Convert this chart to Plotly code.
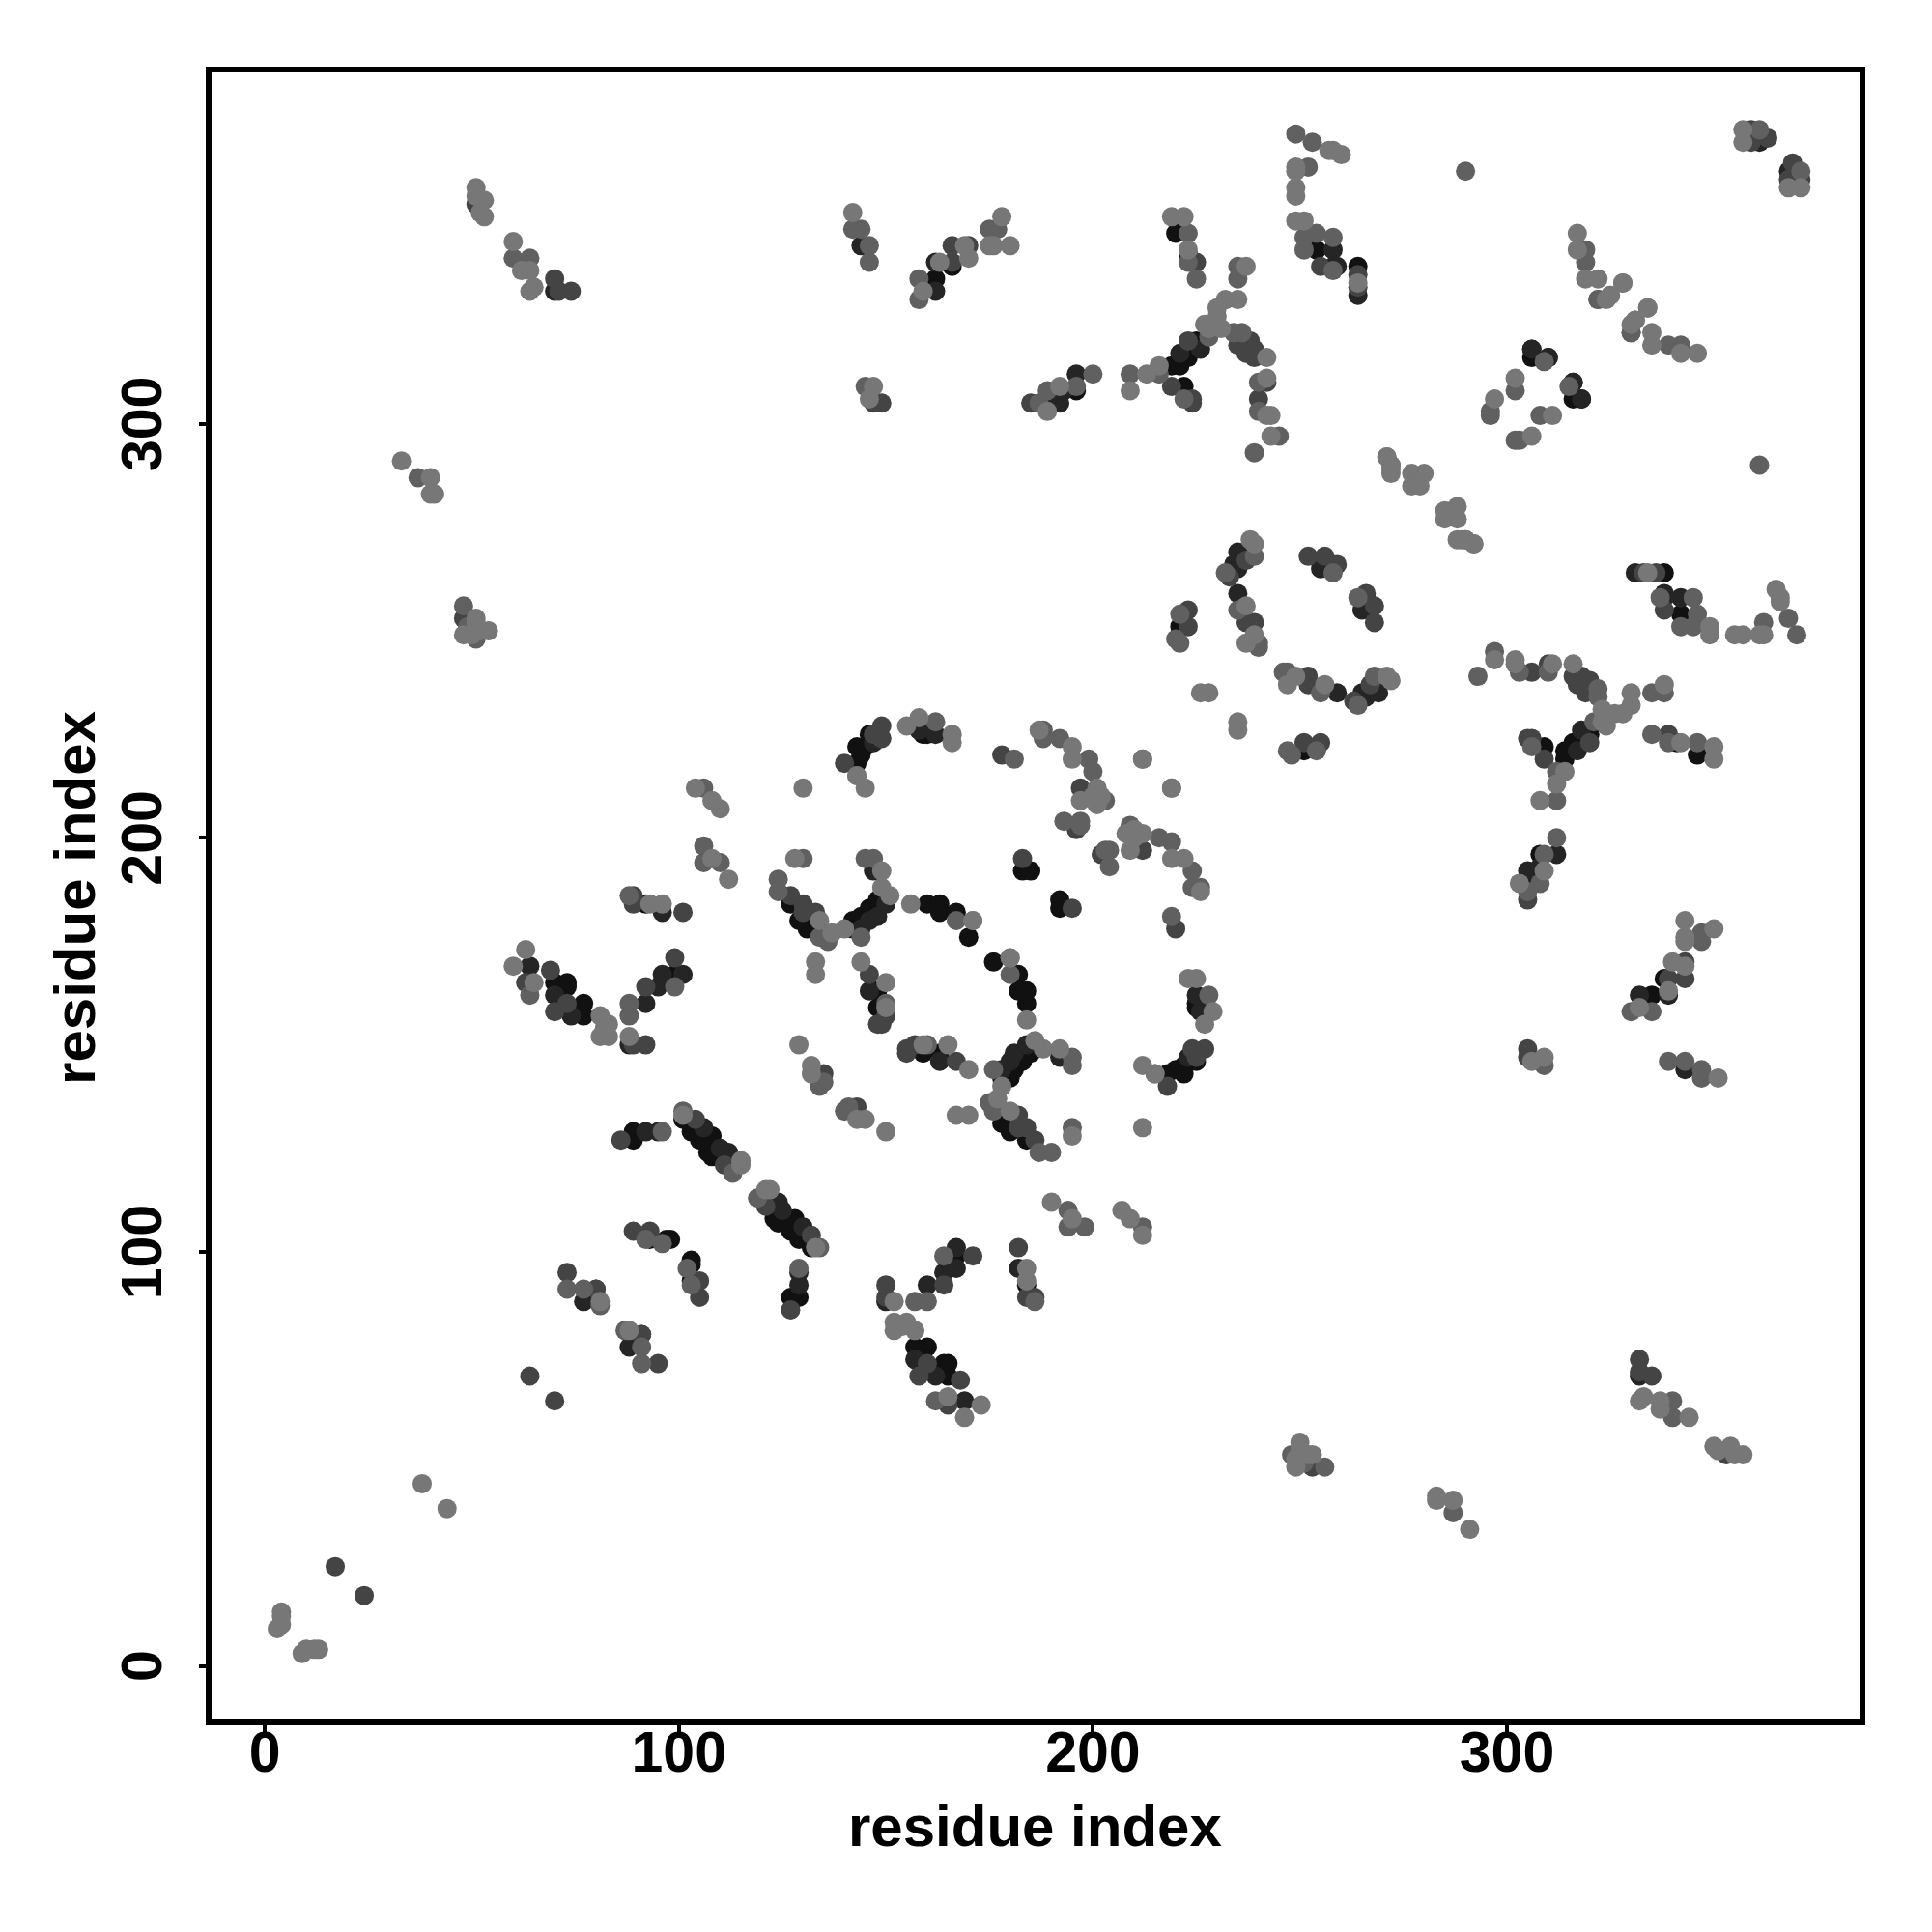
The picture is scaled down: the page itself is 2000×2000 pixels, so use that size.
import plotly.graph_objects as go

tick_vals = [0, 100, 200, 300]
tick_text = ["0", "100", "200", "300"]
axis_label = "residue index"

# The contact map is symmetric: each (i, j) with i < j is drawn at (i, j) and at (j, i).
contacts_darkest = [
    (162,335),(166,338),(196,308),(219,314),(221,314),(223,316),(225,320),(222,309),(220,346),(223,341),
    (254,342),(264,338),(306,316),(316,310),(318,306),(221,251),(258,266),
    (143,218),(144,220),(143,222),(145,222),(146,225),(159,225),(160,225),(183,192),(185,192),
    (160,184),(163,184),(163,182),(167,182),(170,176),(92,184),(70,165),(73,165),(73,164),(77,160),(77,157),
    (99,167),(127,184),(129,180),(131,178),(142,180),(142,178),(144,181),(146,183),(148,185),(148,163),(148,159),
    (101,132),(103,129),(105,127),(108,128),(107,124),(108,123),(89,129),(89,127),(93,103),(97,103),(98,103),
]
contacts_dark = [
    (70,332),(144,343),(162,332),(162,339),(189,305),(192,305),(193,308),(196,312),(221,317),(226,318),
    (258,342),(258,338),(259,338),(235,269),(234,266),(235,265),(235,259),(255,265),(306,318),(310,316),
    (147,223),(158,226),(162,225),(96,182),(64,169),(70,162),(74,157),(92,160),(95,164),(96,167),(101,167),
    (88,150),(144,178),(146,180),(148,181),(150,184),(147,192),(146,163),(106,130),(112,124),(110,125),(77,88),
    (92,129),(95,129),(361,368),(264,331),
]
contacts_middark = [
    (51,353),(48,253),(70,335),(71,332),(74,332),(166,339),(166,343),(170,343),(147,305),(149,305),(185,305),
    (219,309),(224,305),(224,306),(223,320),(235,319),(238,320),(237,317),(239,318),(239,316),(225,339),
    (242,310),(240,306),(255,338),(264,336),(264,333),(359,371),(359,368),(363,369),(233,263),(237,267),
    (237,252),(239,252),(252,268),(256,268),(259,266),(223,255),(223,251),(140,218),(149,227),(149,224),(147,225),
    (178,220),(197,212),(196,202),(183,195),(89,186),(89,184),(101,182),(63,165),(69,168),(73,160),(70,158),
    (92,164),(99,171),(89,150),(92,150),(127,186),(130,184),(130,182),(133,182),(146,167),(150,157),(148,155),
    (149,155),(135,143),(86,127),(89,105),(93,105),(73,95),(80,91),(91,80),(64,70),(17,24),(111,121),(104,132),
]
contacts_mid = [
    (37,287),(49,251),(48,256),(51,248),(60,340),(64,340),(142,347),(144,347),(146,343),(146,339),(158,335),
    (158,330),(175,347),(177,347),(145,309),(187,305),(189,308),(196,309),(200,312),(209,312),(216,312),(222,306),
    (228,321),(235,335),(235,338),(234,322),(236,322),(223,346),(223,339),(225,335),(240,310),(240,303),(245,297),
    (239,293),(249,370),(253,368),(252,362),(251,345),(254,346),(251,342),(258,345),(258,337),(290,361),
    (319,342),(319,339),(322,330),(330,322),(302,308),(296,303),(296,302),(309,315),(361,371),(239,268),(232,264),
    (258,264),(235,255),(240,247),(240,246),(221,254),(220,248),(221,247),
    (188,226),(188,224),(192,224),(181,219),(199,219),(200,216),(203,209),(193,204),(197,204),(197,203),(212,219),
    (162,228),(106,212),(106,198),(106,194),(110,194),(88,186),(64,162),(88,160),(88,157),(99,164),(124,190),(124,187),
    (136,175),(134,176),(144,176),(130,195),(145,195),(147,195),(150,160),(135,141),(134,140),(167,180),(143,215),
    (101,134),(113,119),(96,129),(73,91),(77,91),(81,87),(92,103),(96,102),
]
contacts_light = [
    (33,291),(40,287),(40,283),(41,283),(51,357),(51,355),(53,354),(52,351),(53,350),(60,344),(62,337),(64,337),
    (64,332),(65,333),(48,249),(51,253),(50,249),(52,250),(54,250),(51,252),(142,351),(159,332),(163,339),(170,340),
    (169,343),(175,343),(176,343),(178,350),(180,343),(147,309),(146,306),(189,303),(192,309),(209,308),(213,312),
    (216,314),(227,324),(228,323),(230,326),(230,328),(231,323),(232,330),(235,330),(237,338),(242,316),(219,350),
    (222,350),(223,342),(242,311),(242,302),(243,302),(243,297),(249,361),(249,362),(249,355),(249,357),(257,366),
    (258,366),(260,365),(251,349),(249,349),(264,334),(357,371),(357,368),(317,346),(317,342),(319,335),(322,335),
    (328,334),(325,331),(324,330),(331,325),(334,328),(302,311),(297,306),(271,292),(272,290),(272,288),(277,288),
    (280,288),(277,285),(279,285),(289,272),(290,272),(292,271),(238,272),(239,271),(237,256),(237,247),(239,249),
    (228,235),(226,235),(143,215),(145,212),(155,227),(158,229),(166,225),(166,223),(156,184),(171,180),
    (187,226),(195,222),(195,219),(201,212),(197,209),(201,208),(200,210),(202,210),(104,212),(108,209),(110,207),
    (108,195),(112,190),(93,184),(96,184),(63,173),(60,169),(65,165),(81,157),(83,155),(81,152),(83,152),(82,154),
    (88,152),(128,195),(130,212),(134,180),(137,177),(140,178),(149,188),(151,186),(149,192),(133,170),(133,167),
    (144,170),(129,150),(132,145),(132,143),(115,121),(115,122),(101,133),(81,88),
    (4,13),(4,12),(3,9),(4,10),(38,44),(219,212),(180,171),(150,165),(150,159),
]

groups = [
    (contacts_darkest, "#111111"),
    (contacts_dark, "#252525"),
    (contacts_middark, "#444444"),
    (contacts_mid, "#606060"),
    (contacts_light, "#777777"),
]

fig = go.Figure()
for pairs, col in groups:
    a = [p[0] for p in pairs]
    b = [p[1] for p in pairs]
    fig.add_trace(go.Scatter(
        x=a + b, y=b + a, mode="markers",
        marker=dict(color=col, size=20, line=dict(width=0)),
        showlegend=False, hoverinfo="skip"))

title_font = dict(family="Liberation Sans", size=60, color="black", weight="bold")
tick_font = dict(family="Liberation Sans", size=59, color="black", weight="bold")
common = dict(
    tickmode="array", tickvals=tick_vals, ticktext=tick_text,
    ticks="outside", ticklen=7, tickwidth=4, tickcolor="black",
    showgrid=False, zeroline=False, showline=True, linecolor="black",
    linewidth=6, mirror=True, tickfont=tick_font, automargin=False)

fig.update_layout(
    width=2000, height=2000, margin=dict(l=0, r=0, t=0, b=0),
    paper_bgcolor="white", plot_bgcolor="white",
    xaxis=dict(domain=[211.3/2000, 1916.5/2000], range=[-12.8, 385.05], ticklabelstandoff=-29, **common),
    yaxis=dict(domain=[1-1771.5/2000, 1-67.2/2000], range=[-12.83, 384.8], tickangle=-90,
               ticklabelstandoff=16, ticklabelshift=9, **common),
    annotations=[
        dict(text=axis_label, xref="paper", yref="paper", x=0.5317, y=0.059,
             xanchor="center", yanchor="middle", showarrow=False, font=title_font),
        dict(text=axis_label, xref="paper", yref="paper", x=0.03445, y=0.5395,
             xanchor="center", yanchor="middle", showarrow=False, textangle=-90, font=title_font),
    ])
fig.write_html("out.html")
